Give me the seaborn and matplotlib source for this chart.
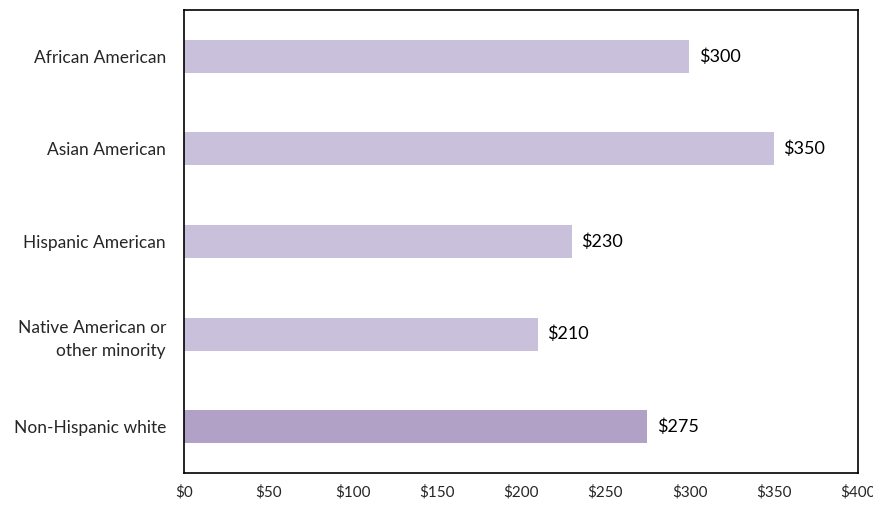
import matplotlib
matplotlib.use("Agg")
import matplotlib.pyplot as plt
import seaborn as sns
import pandas as pd

categories = ["African American", "Asian American", "Hispanic American",
              "Native American or\nother minority", "Non-Hispanic white"]
values = [300, 350, 230, 210, 275]
colors = ["#C9C0DC", "#C9C0DC", "#C9C0DC", "#C9C0DC", "#B1A1C7"]
xticks = [0, 50, 100, 150, 200, 250, 300, 350, 400]

sns.set_theme(style="white")
plt.rcParams["font.family"] = ["Lato", "DejaVu Sans"]

df = pd.DataFrame({"cat": categories, "val": values})
fig = plt.figure(figsize=(8.73, 5.05), dpi=100)
ax = fig.add_axes([0.2108, 0.0634, 0.7720, 0.9168])
sns.barplot(data=df, x="val", y="cat", hue="cat", palette=colors, legend=False,
            width=0.355, ax=ax, saturation=1, edgecolor="none")
ax.set_xlim(0, 400)
ax.set_ylim(4.5, -0.5)
ax.set_xticks(xticks)
ax.set_xticklabels([f"${t}" for t in xticks], fontsize=11)
ax.tick_params(axis="x", direction="out", length=5, width=1.2, color="black", pad=4)
ax.tick_params(axis="y", length=0, pad=13, labelsize=12.5)
for lbl in ax.get_yticklabels():
    lbl.set_horizontalalignment("right")
    lbl.set_multialignment("right")
    lbl.set_linespacing(1.55)
ax.set_xlabel("")
ax.set_ylabel("")
for s in ax.spines.values():
    s.set_visible(True)
    s.set_color("black")
    s.set_linewidth(1.2)
for i, v in enumerate(values):
    ax.text(v + 5.5, i, f"${v}", va="center", ha="left", fontsize=13, color="black")
fig.savefig("out.png", dpi=100)
